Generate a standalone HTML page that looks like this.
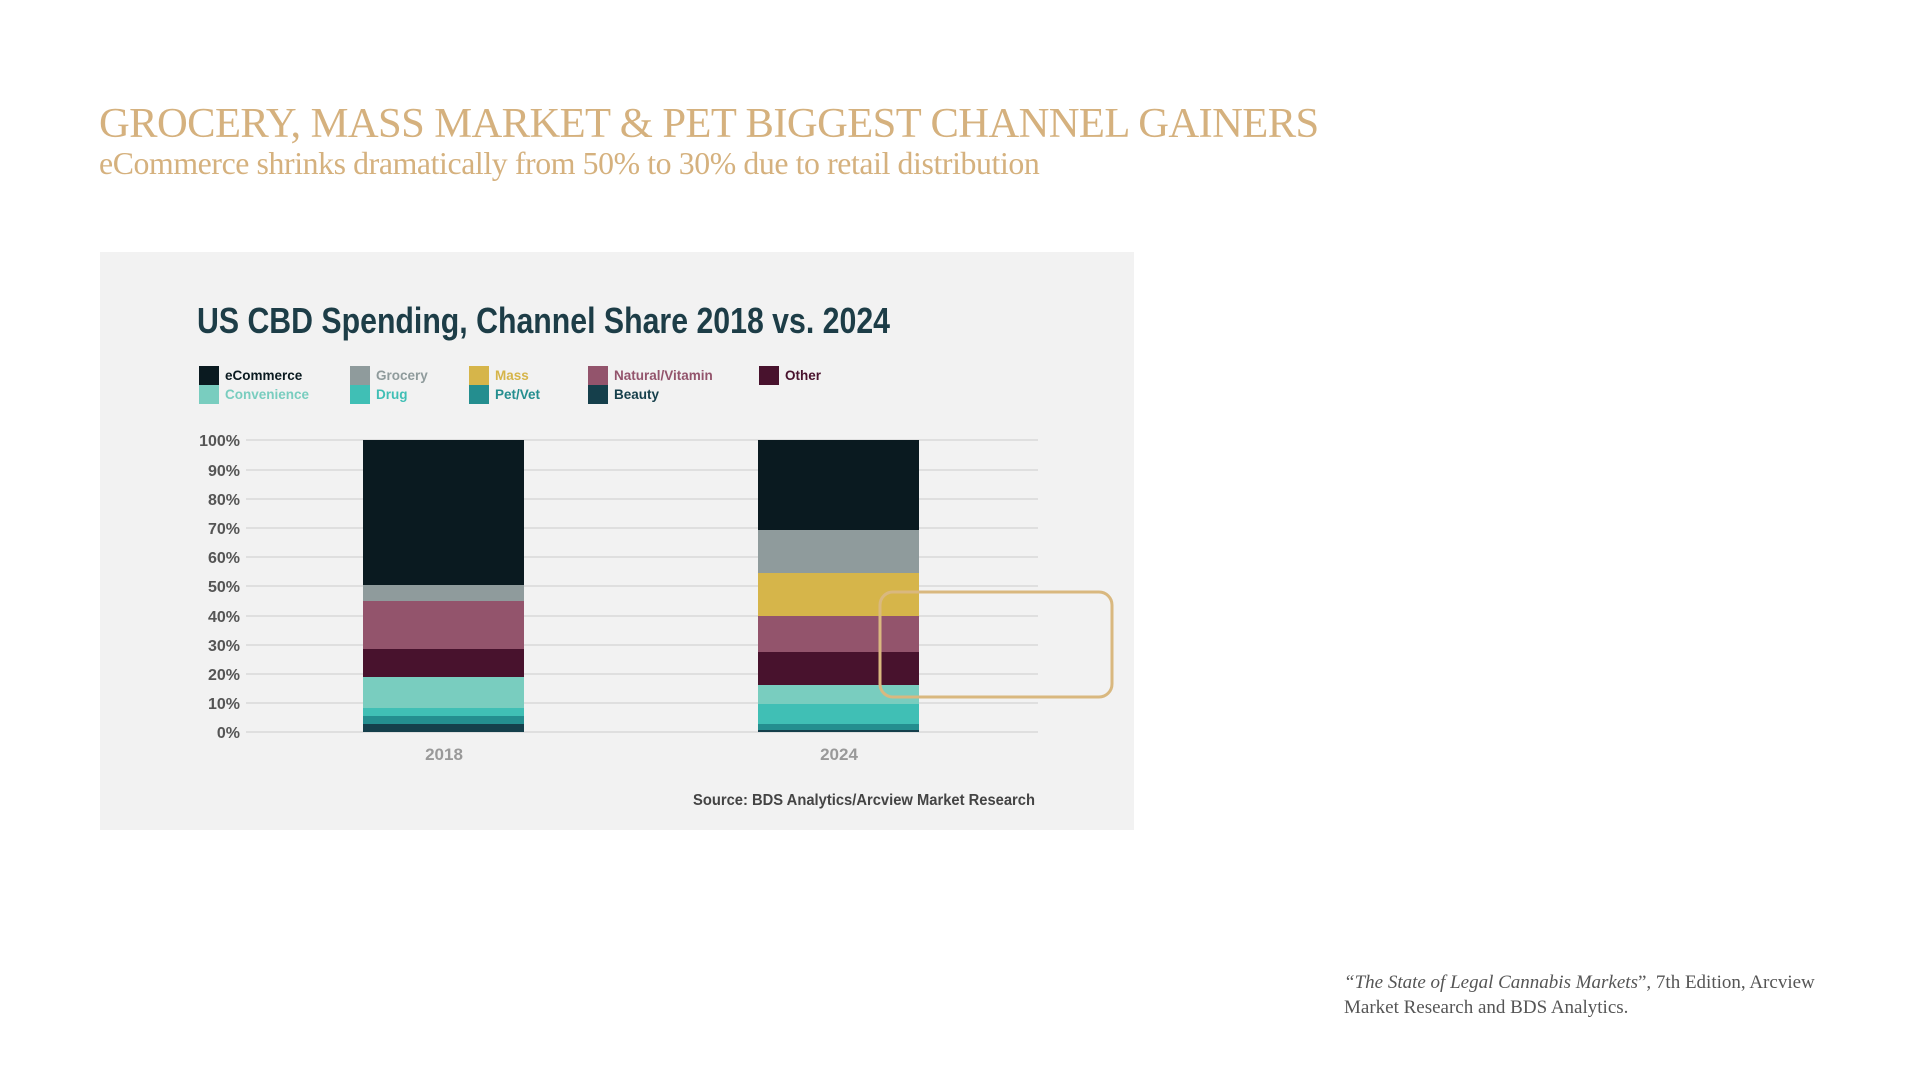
<!DOCTYPE html>
<html><head><meta charset="utf-8"><style>
html,body{margin:0;padding:0;background:#fff;width:1915px;height:1078px;overflow:hidden}
.t{position:absolute;font-family:"Liberation Serif",serif;color:#d5b17e;white-space:nowrap}
</style></head><body>
<div class="t" style="left:99px;top:99px;font-size:42.6px;letter-spacing:-0.6px">GROCERY, MASS MARKET &amp; PET BIGGEST CHANNEL GAINERS</div>
<div class="t" style="left:99px;top:146px;font-size:31.8px;letter-spacing:-0.4px">eCommerce shrinks dramatically from 50% to 30% due to retail distribution</div>
<div class="t" style="left:1344px;top:970px;font-size:19px;color:#555;line-height:25px"><i>“The State of Legal Cannabis Markets</i>”, 7th Edition, Arcview<br>Market Research and BDS Analytics.</div>
<svg style="position:absolute;left:0;top:0" width="1915" height="1078">
<rect x="100" y="252" width="1034" height="578" fill="#f2f2f2"/>
<g transform="translate(-2,-1)">
<text x="199" y="334" font-family="Liberation Sans Narrow, Liberation Sans, sans-serif" font-weight="bold" font-size="36" fill="#1d3d47" textLength="693" lengthAdjust="spacingAndGlyphs">US CBD Spending, Channel Share 2018 vs. 2024</text>
<g font-family="Liberation Sans Narrow, Liberation Sans, sans-serif" font-weight="bold" font-size="13.5">
<rect x="201" y="367" width="20" height="19" fill="#0a1a20"/><text x="227" y="381" fill="#0a1a20">eCommerce</text>
<rect x="201" y="386" width="20" height="19" fill="#79cdbf"/><text x="227" y="400" fill="#79cdbf">Convenience</text>
<rect x="352" y="367" width="20" height="19" fill="#8f9b9c"/><text x="378" y="381" fill="#8f9b9c">Grocery</text>
<rect x="352" y="386" width="20" height="19" fill="#40bfb5"/><text x="378" y="400" fill="#40bfb5">Drug</text>
<rect x="471" y="367" width="20" height="19" fill="#d6b54a"/><text x="497" y="381" fill="#d6b54a">Mass</text>
<rect x="471" y="386" width="20" height="19" fill="#248e8f"/><text x="497" y="400" fill="#248e8f">Pet/Vet</text>
<rect x="590" y="367" width="20" height="19" fill="#93546c"/><text x="616" y="381" fill="#93546c">Natural/Vitamin</text>
<rect x="590" y="386" width="20" height="19" fill="#153f4b"/><text x="616" y="400" fill="#153f4b">Beauty</text>
<rect x="761" y="367" width="20" height="19" fill="#48122d"/><text x="787" y="381" fill="#48122d">Other</text>
</g>
<g stroke="#dfdfdf" stroke-width="2">
<line x1="248" x2="1040" y1="441" y2="441"/><line x1="248" x2="1040" y1="471" y2="471"/><line x1="248" x2="1040" y1="500" y2="500"/><line x1="248" x2="1040" y1="529" y2="529"/><line x1="248" x2="1040" y1="558" y2="558"/><line x1="248" x2="1040" y1="587" y2="587"/><line x1="248" x2="1040" y1="617" y2="617"/><line x1="248" x2="1040" y1="646" y2="646"/><line x1="248" x2="1040" y1="675" y2="675"/><line x1="248" x2="1040" y1="704" y2="704"/><line x1="248" x2="1040" y1="733" y2="733"/>
</g>
<g font-family="Liberation Sans Narrow, Liberation Sans, sans-serif" font-weight="bold" font-size="16" fill="#555" text-anchor="end">
<text x="242" y="447">100%</text><text x="242" y="477">90%</text><text x="242" y="506">80%</text><text x="242" y="535">70%</text><text x="242" y="564">60%</text><text x="242" y="593">50%</text><text x="242" y="623">40%</text><text x="242" y="652">30%</text><text x="242" y="681">20%</text><text x="242" y="710">10%</text><text x="242" y="739">0%</text>
</g>
<g>
<rect x="365" y="441" width="161" height="145" fill="#0a1a20"/>
<rect x="365" y="586" width="161" height="16" fill="#8f9b9c"/>
<rect x="365" y="602" width="161" height="48" fill="#93546c"/>
<rect x="365" y="650" width="161" height="28" fill="#48122d"/>
<rect x="365" y="678" width="161" height="31" fill="#79cdbf"/>
<rect x="365" y="709" width="161" height="8" fill="#40bfb5"/>
<rect x="365" y="717" width="161" height="8" fill="#248e8f"/>
<rect x="365" y="725" width="161" height="8" fill="#153f4b"/>
<rect x="760" y="441" width="161" height="90" fill="#0a1a20"/>
<rect x="760" y="531" width="161" height="43" fill="#8f9b9c"/>
<rect x="760" y="574" width="161" height="43" fill="#d6b54a"/>
<rect x="760" y="617" width="161" height="36" fill="#93546c"/>
<rect x="760" y="653" width="161" height="33" fill="#48122d"/>
<rect x="760" y="686" width="161" height="19" fill="#79cdbf"/>
<rect x="760" y="705" width="161" height="20" fill="#40bfb5"/>
<rect x="760" y="725" width="161" height="6" fill="#248e8f"/>
<rect x="760" y="731" width="161" height="2" fill="#153f4b"/>
</g>
<g font-family="Liberation Sans Narrow, Liberation Sans, sans-serif" font-weight="bold" font-size="17" fill="#999" text-anchor="middle">
<text x="446" y="761">2018</text><text x="841" y="761">2024</text>
</g>
<text x="1037" y="806" text-anchor="end" font-family="Liberation Sans Narrow, Liberation Sans, sans-serif" font-weight="bold" font-size="16" fill="#444" textLength="342" lengthAdjust="spacingAndGlyphs">Source: BDS Analytics/Arcview Market Research</text>
</g>
<rect x="880" y="592" width="232" height="105" rx="13" fill="none" stroke="#d9b87f" stroke-width="3"/>
</svg>
</body></html>
